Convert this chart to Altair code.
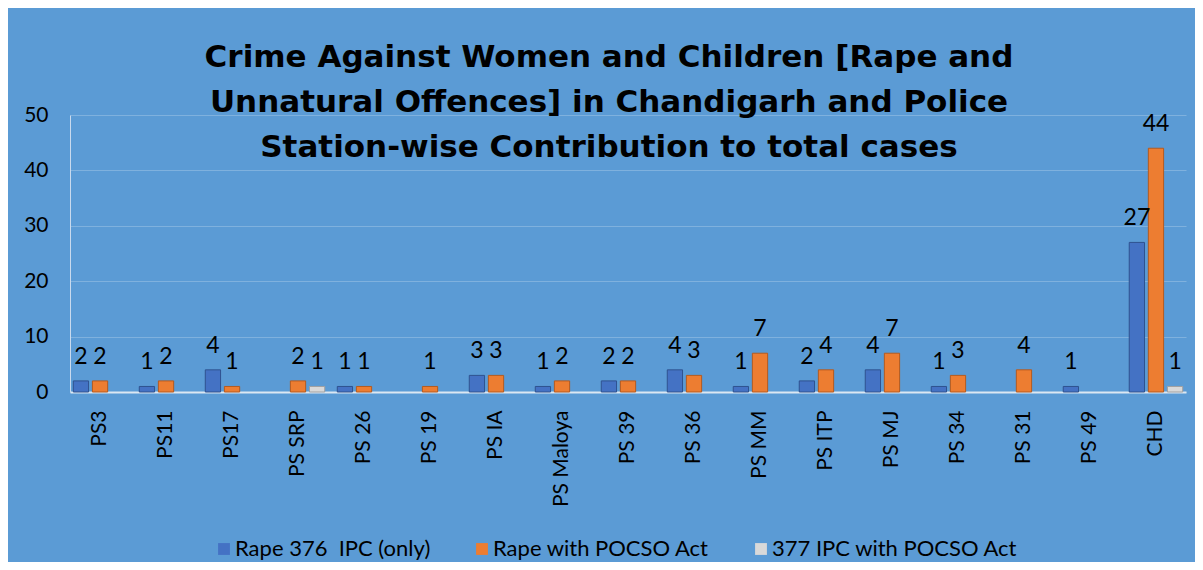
import altair as alt
import pandas as pd

categories = ["PS3", "PS11", "PS17", "PS SRP", "PS 26", "PS 19", "PS IA", "PS Maloya",
              "PS 39", "PS 36", "PS MM", "PS ITP", "PS MJ", "PS 34", "PS 31", "PS 49", "CHD"]
series = ["Rape 376\u00a0\u00a0IPC (only)", "Rape with POCSO Act", "377 IPC with POCSO Act"]
rape_376 = [2, 1, 4, None, 1, None, 3, 1, 2, 4, 1, 2, 4, 1, None, 1, 27]
rape_pocso = [2, 2, 1, 2, 1, 1, 3, 2, 2, 3, 7, 4, 7, 3, 4, None, 44]
ipc_377 = [None, None, None, 1, None, None, None, None, None, None, None, None, None, None, None, None, 1]
colors = ["#4472C4", "#ED7D31", "#D9D9D9"]
strokes = ["#2F528F", "#B55A1E", "#A0A0A0"]
y_ticks = [0, 10, 20, 30, 40, 50]
title_lines = ["Crime Against Women and Children [Rape and",
               "Unnatural Offences] in Chandigarh and Police",
               "Station-wise Contribution to total cases"]

rows = []
for s, vals in zip(series, [rape_376, rape_pocso, ipc_377]):
    for c, v in zip(categories, vals):
        if v is not None:
            rows.append({"cat": c, "series": s, "value": v})
df = pd.DataFrame(rows)

FONT = "Lato"

base = alt.Chart(df).encode(
    x=alt.X("cat:N", sort=categories, title=None,
            scale=alt.Scale(paddingInner=0.19, paddingOuter=0.05),
            axis=alt.Axis(labelAngle=-90, labelFontSize=21, labelFont=FONT, labelColor="black",
                          labelPadding=18, ticks=False, domainColor="#DCE7F2", domainWidth=2,
                          labelLimit=200)),
    xOffset=alt.XOffset("series:N", sort=series,
                        scale=alt.Scale(domain=series, paddingInner=0.2)),
    y=alt.Y("value:Q", title=None,
            scale=alt.Scale(domain=[0, 50], nice=False),
            axis=alt.Axis(values=y_ticks, labelFontSize=21, labelFont=FONT, labelColor="black",
                          labelPadding=22, ticks=False, domainColor="#C9DAEE", domainWidth=1,
                          grid=True, gridColor="#FFFFFF", gridOpacity=0.22)),
)

bars = base.mark_bar(strokeWidth=1).encode(
    color=alt.Color("series:N", sort=series,
                    scale=alt.Scale(domain=series, range=colors),
                    legend=alt.Legend(title=None, orient="none", direction="horizontal",
                                      legendX=143, legendY=423, symbolType="square",
                                      symbolSize=140, symbolStrokeWidth=0,
                                      labelFontSize=22, labelFont=FONT, labelColor="black",
                                      columnPadding=40, labelLimit=400, labelOffset=0)),
    stroke=alt.Stroke("series:N", sort=series,
                      scale=alt.Scale(domain=series, range=strokes), legend=None),
)

labels = base.mark_text(baseline="bottom", dy=-12, fontSize=23, font=FONT, color="black").encode(
    text=alt.Text("value:Q")
)

chart = alt.layer(bars, labels).properties(
    width=1116,
    height=277,
    autosize=alt.AutoSizeParams(type="none"),
    padding={"left": 62, "top": 107, "right": 9, "bottom": 170},
    background="#5B9BD5",
    title=alt.TitleParams(text=title_lines, fontSize=31, font="DejaVu Sans", fontWeight="bold",
                          color="black", lineHeight=45, anchor="middle", offset=-60, dx=-19),
).configure_view(stroke=None, fill="#5B9BD5")

chart.save("out.html", embed_options={"renderer": "svg", "actions": False})
